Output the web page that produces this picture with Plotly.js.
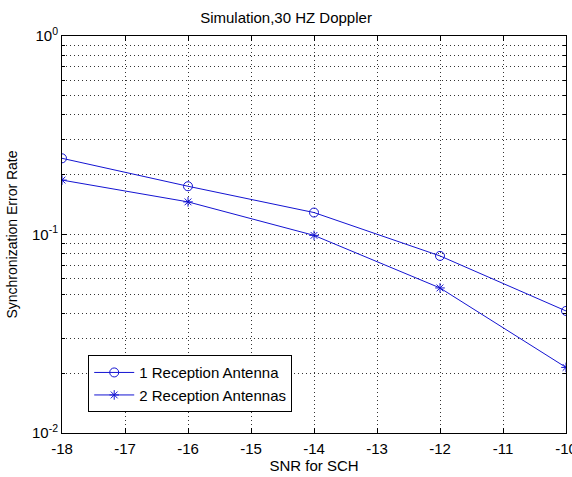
<!DOCTYPE html>
<html>
<head>
<meta charset="utf-8">
<script src="https://cdn.plot.ly/plotly-3.0.1.min.js"></script>
<style>html,body{margin:0;padding:0;background:#fff;}#chart{width:572px;height:477px;}</style>
</head>
<body>
<div id="chart"></div>
<script>
const snr = [-18, -16, -14, -12, -10];
const oneAntenna = [0.242, 0.175, 0.129, 0.078, 0.0412];
const twoAntennas = [0.188, 0.146, 0.099, 0.0538, 0.0214];
const seriesNames = ['1 Reception Antenna', '2 Reception Antennas'];
const xTickVals = [-18, -17, -16, -15, -14, -13, -12, -11, -10];
const xTickText = ['-18', '-17', '-16', '-15', '-14', '-13', '-12', '-11', '-10'];
const yTickVals = [0.01, 0.1, 1];
const yTickText = ['10<sup>-2</sup>', '10<sup>-1</sup>', '10<sup>0</sup>'];

const lineColor = 'rgb(20,20,210)';
const fam = 'Liberation Sans, Arial, sans-serif';
const font = {family: fam, size: 15, color: '#000'};

const traces = [
  {x: snr, y: oneAntenna, name: seriesNames[0], type: 'scatter', mode: 'lines+markers',
   line: {color: lineColor, width: 1},
   marker: {symbol: 'circle-open', size: 9, color: lineColor, line: {width: 1, color: lineColor}}},
  {x: snr, y: twoAntennas, name: seriesNames[1], type: 'scatter', mode: 'lines+markers',
   line: {color: lineColor, width: 1},
   marker: {symbol: 'asterisk-open', size: 8, color: lineColor, line: {width: 1, color: lineColor}}}
];

const gridDash = '1px,3px';
const layout = {
  width: 572, height: 477,
  margin: {l: 62, r: 6, t: 36, b: 44, pad: 0},
  paper_bgcolor: '#fff', plot_bgcolor: '#fff',
  font: font,
  showlegend: true,
  title: {text: 'Simulation,30 HZ Doppler', font: {family: fam, size: 15, color: '#000'}, x: 0.5, xanchor: 'center', y: 0.962, yanchor: 'middle'},
  xaxis: {
    range: [-18, -10], tickvals: xTickVals, ticktext: xTickText,
    ticks: 'inside', ticklen: 5, tickcolor: '#000', tickwidth: 1,
    showline: true, linecolor: '#000', linewidth: 1, mirror: 'allticks',
    showgrid: true, gridcolor: '#333', gridwidth: 1, griddash: gridDash,
    zeroline: false, tickfont: {family: fam, size: 15, color: '#000'},
    ticklabeloverflow: 'allow', automargin: false, ticklabelstandoff: 2,
    title: {text: 'SNR for SCH', font: {family: fam, size: 15, color: '#000'}, standoff: 3}
  },
  yaxis: {
    type: 'log', range: [-2, 0], tickvals: yTickVals, ticktext: yTickText,
    ticks: 'inside', ticklen: 5, tickcolor: '#000', tickwidth: 1,
    showline: true, linecolor: '#000', linewidth: 1, mirror: 'allticks',
    showgrid: true, gridcolor: '#333', gridwidth: 1, griddash: gridDash,
    zeroline: false, tickfont: {family: fam, size: 15, color: '#000'},
    ticklabeloverflow: 'allow', automargin: false,
    minor: {dtick: 'D1', ticks: 'inside', ticklen: 3, tickcolor: '#000', showgrid: true, gridcolor: '#333', gridwidth: 1, griddash: gridDash},
    title: {text: 'Synchronization Error Rate', font: {family: fam, size: 14, color: '#000'}, standoff: 11}
  },
  legend: {
    x: 0.052, y: 0.196, xanchor: 'left', yanchor: 'top',
    bgcolor: '#fff', bordercolor: '#000', borderwidth: 1,
    font: {family: fam, size: 15, color: '#000'},
    tracegroupgap: 0, itemwidth: 40
  }
};

Plotly.newPlot('chart', traces, layout, {staticPlot: true, displayModeBar: false});
</script>
</body>
</html>
